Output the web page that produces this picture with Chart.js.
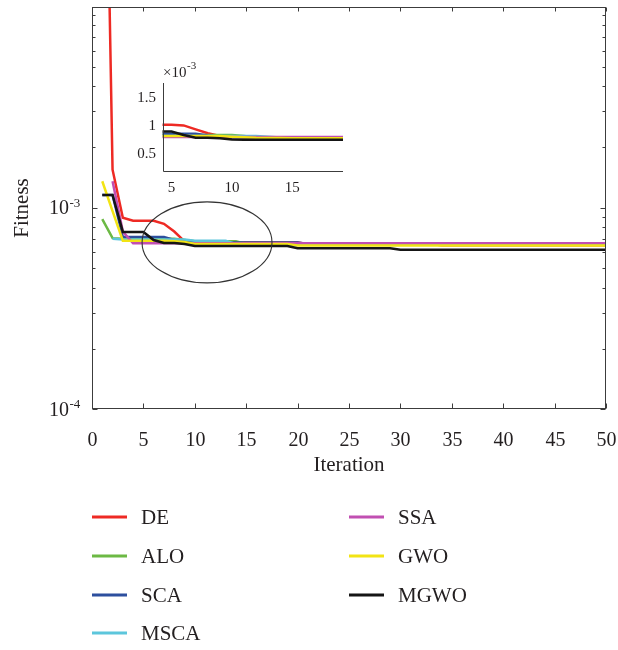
<!DOCTYPE html>
<html>
<head>
<meta charset="utf-8">
<script src="https://cdn.jsdelivr.net/npm/chart.js@4.4.0/dist/chart.umd.min.js"></script>
<style>
    html, body { margin: 0; padding: 0; background: #fff; }
    #wrap { position: relative; width: 618px; height: 650px; }
    #wrap canvas { position: absolute; left: 0; top: 0; }
</style>
</head>
<body>
<div id="wrap">
    <canvas id="mainChart" width="618" height="650"></canvas>
    <canvas id="insetChart" width="618" height="650"></canvas>
</div>
<script>
// ── Data ─────────────────────────────────────────────────────
const iterations = [1, 2, 3, 4, 5, 6, 7, 8, 9, 10, 11, 12, 13, 14, 15, 16, 17, 18, 19, 20,
    21, 22, 23, 24, 25, 26, 27, 28, 29, 30, 31, 32, 33, 34, 35, 36, 37, 38, 39, 40,
    41, 42, 43, 44, 45, 46, 47, 48, 49, 50];

const seriesNames = ['DE', 'ALO', 'SCA', 'MSCA', 'SSA', 'GWO', 'MGWO'];
const seriesColors = ['#ee2a24', '#6cb944', '#2d4f9e', '#5cc6dc', '#c14fb2', '#f2e414', '#151515'];

const deFit = [1.0, 1.54e-3, 8.9e-4, 8.6e-4, 8.6e-4, 8.6e-4, 8.3e-4, 7.6e-4, 6.8e-4, 6.75e-4,
    6.7e-4, 6.7e-4, 6.7e-4, 6.7e-4, 6.7e-4, 6.7e-4, 6.7e-4, 6.7e-4, 6.7e-4, 6.7e-4,
    6.6e-4, 6.6e-4, 6.6e-4, 6.6e-4, 6.6e-4, 6.6e-4, 6.6e-4, 6.6e-4, 6.6e-4, 6.6e-4,
    6.6e-4, 6.6e-4, 6.6e-4, 6.5e-4, 6.5e-4, 6.5e-4, 6.5e-4, 6.5e-4, 6.5e-4, 6.5e-4,
    6.5e-4, 6.5e-4, 6.5e-4, 6.5e-4, 6.5e-4, 6.5e-4, 6.5e-4, 6.5e-4, 6.5e-4, 6.5e-4];
const aloFit = [8.76e-4, 7.05e-4, 7.0e-4, 7.0e-4, 7.0e-4, 7.0e-4, 7.0e-4, 7.0e-4, 6.9e-4, 6.8e-4,
    6.8e-4, 6.8e-4, 6.8e-4, 6.8e-4, 6.6e-4, 6.55e-4, 6.55e-4, 6.55e-4, 6.55e-4, 6.55e-4,
    6.55e-4, 6.55e-4, 6.55e-4, 6.55e-4, 6.55e-4, 6.55e-4, 6.55e-4, 6.55e-4, 6.55e-4, 6.55e-4,
    6.55e-4, 6.55e-4, 6.55e-4, 6.55e-4, 6.55e-4, 6.55e-4, 6.55e-4, 6.55e-4, 6.55e-4, 6.55e-4,
    6.55e-4, 6.55e-4, 6.55e-4, 6.55e-4, 6.55e-4, 6.55e-4, 6.55e-4, 6.55e-4, 6.55e-4, 6.55e-4];
const scaFit = [1.155e-3, 1.155e-3, 7.15e-4, 7.15e-4, 7.15e-4, 7.15e-4, 7.15e-4, 6.9e-4, 6.8e-4, 6.75e-4,
    6.7e-4, 6.7e-4, 6.7e-4, 6.7e-4, 6.7e-4, 6.7e-4, 6.7e-4, 6.7e-4, 6.7e-4, 6.7e-4,
    6.6e-4, 6.6e-4, 6.6e-4, 6.6e-4, 6.6e-4, 6.6e-4, 6.6e-4, 6.6e-4, 6.6e-4, 6.6e-4,
    6.55e-4, 6.55e-4, 6.55e-4, 6.55e-4, 6.55e-4, 6.55e-4, 6.55e-4, 6.55e-4, 6.55e-4, 6.55e-4,
    6.55e-4, 6.55e-4, 6.55e-4, 6.55e-4, 6.55e-4, 6.55e-4, 6.55e-4, 6.55e-4, 6.55e-4, 6.55e-4];
const mscaFit = [null, 7.0e-4, 6.95e-4, 6.95e-4, 6.95e-4, 6.95e-4, 6.95e-4, 6.95e-4, 6.95e-4, 6.85e-4,
    6.85e-4, 6.85e-4, 6.85e-4, 6.6e-4, 6.6e-4, 6.6e-4, 6.6e-4, 6.6e-4, 6.6e-4, 6.6e-4,
    6.6e-4, 6.6e-4, 6.6e-4, 6.6e-4, 6.6e-4, 6.6e-4, 6.6e-4, 6.6e-4, 6.6e-4, 6.6e-4,
    6.6e-4, 6.6e-4, 6.6e-4, 6.6e-4, 6.6e-4, 6.6e-4, 6.6e-4, 6.6e-4, 6.6e-4, 6.6e-4,
    6.6e-4, 6.6e-4, 6.6e-4, 6.6e-4, 6.6e-4, 6.6e-4, 6.6e-4, 6.6e-4, 6.6e-4, 6.6e-4];
const ssaFit = [null, 1.35e-3, 7.6e-4, 6.65e-4, 6.65e-4, 6.65e-4, 6.65e-4, 6.65e-4, 6.65e-4, 6.65e-4,
    6.65e-4, 6.65e-4, 6.65e-4, 6.65e-4, 6.65e-4, 6.65e-4, 6.65e-4, 6.65e-4, 6.65e-4, 6.65e-4,
    6.65e-4, 6.65e-4, 6.65e-4, 6.65e-4, 6.65e-4, 6.65e-4, 6.65e-4, 6.65e-4, 6.65e-4, 6.65e-4,
    6.65e-4, 6.65e-4, 6.65e-4, 6.65e-4, 6.65e-4, 6.65e-4, 6.65e-4, 6.65e-4, 6.65e-4, 6.65e-4,
    6.65e-4, 6.65e-4, 6.65e-4, 6.65e-4, 6.65e-4, 6.65e-4, 6.65e-4, 6.65e-4, 6.65e-4, 6.65e-4];
const gwoFit = [1.35e-3, 9.6e-4, 6.85e-4, 6.85e-4, 6.85e-4, 6.85e-4, 6.85e-4, 6.8e-4, 6.75e-4, 6.6e-4,
    6.6e-4, 6.6e-4, 6.6e-4, 6.6e-4, 6.6e-4, 6.6e-4, 6.6e-4, 6.6e-4, 6.6e-4, 6.48e-4,
    6.48e-4, 6.48e-4, 6.48e-4, 6.48e-4, 6.48e-4, 6.48e-4, 6.48e-4, 6.48e-4, 6.48e-4, 6.48e-4,
    6.48e-4, 6.48e-4, 6.48e-4, 6.48e-4, 6.48e-4, 6.48e-4, 6.48e-4, 6.48e-4, 6.48e-4, 6.48e-4,
    6.48e-4, 6.48e-4, 6.48e-4, 6.48e-4, 6.48e-4, 6.48e-4, 6.48e-4, 6.48e-4, 6.48e-4, 6.48e-4];
const mgwoFit = [1.155e-3, 1.155e-3, 7.57e-4, 7.57e-4, 7.57e-4, 6.9e-4, 6.68e-4, 6.68e-4, 6.6e-4, 6.45e-4,
    6.45e-4, 6.45e-4, 6.45e-4, 6.45e-4, 6.45e-4, 6.45e-4, 6.45e-4, 6.45e-4, 6.45e-4, 6.28e-4,
    6.28e-4, 6.28e-4, 6.28e-4, 6.28e-4, 6.28e-4, 6.28e-4, 6.28e-4, 6.28e-4, 6.28e-4, 6.17e-4,
    6.17e-4, 6.17e-4, 6.17e-4, 6.17e-4, 6.17e-4, 6.17e-4, 6.17e-4, 6.17e-4, 6.17e-4, 6.17e-4,
    6.17e-4, 6.17e-4, 6.17e-4, 6.17e-4, 6.17e-4, 6.17e-4, 6.17e-4, 6.17e-4, 6.17e-4, 6.17e-4];
const mainSeries = [deFit, aloFit, scaFit, mscaFit, ssaFit, gwoFit, mgwoFit];

// inset (zoomed view, values in units of 10^-3)
const insetIters = [4, 5, 6, 7, 8, 9, 10, 11, 12, 13, 14, 15, 16, 17, 18, 19, 20];
const insetDe   = [1.0, 1.0, 0.99, 0.92, 0.85, 0.80, 0.79, 0.78, 0.78, 0.78, 0.78, 0.78, 0.78, 0.78, 0.78, 0.78, 0.78];
const insetAlo  = [0.82, 0.82, 0.82, 0.82, 0.82, 0.82, 0.82, 0.80, 0.775, 0.775, 0.775, 0.775, 0.775, 0.775, 0.775, 0.775, 0.775];
const insetSca  = [0.84, 0.84, 0.84, 0.84, 0.81, 0.79, 0.775, 0.775, 0.775, 0.775, 0.775, 0.775, 0.775, 0.775, 0.775, 0.775, 0.775];
const insetMsca = [0.80, 0.80, 0.80, 0.80, 0.80, 0.80, 0.80, 0.80, 0.80, 0.79, 0.775, 0.775, 0.775, 0.775, 0.775, 0.775, 0.775];
const insetSsa  = [0.785, 0.785, 0.785, 0.785, 0.785, 0.785, 0.785, 0.785, 0.785, 0.785, 0.785, 0.785, 0.785, 0.785, 0.785, 0.785, 0.785];
const insetGwo  = [0.80, 0.80, 0.80, 0.80, 0.80, 0.80, 0.79, 0.78, 0.77, 0.765, 0.765, 0.76, 0.76, 0.76, 0.76, 0.76, 0.76];
const insetMgwo = [0.88, 0.88, 0.82, 0.77, 0.77, 0.76, 0.74, 0.735, 0.735, 0.735, 0.735, 0.735, 0.735, 0.735, 0.735, 0.735, 0.73];
const insetSeries = [insetDe, insetAlo, insetSca, insetMsca, insetSsa, insetGwo, insetMgwo];

// tick labels
const xTicks = [0, 5, 10, 15, 20, 25, 30, 35, 40, 45, 50];
const yMajor = [1e-4, 1e-3];
const yMajorExp = ['-4', '-3'];
const yMinor = [2e-4, 3e-4, 4e-4, 5e-4, 6e-4, 7e-4, 8e-4, 9e-4, 2e-3, 3e-3, 4e-3, 5e-3, 6e-3, 7e-3, 8e-3, 9e-3];
const insetXTicks = [5, 10, 15];
const insetYTicks = [0.5, 1, 1.5];
const insetYLabels = ['0.5', '1', '1.5'];

// ellipse around the zoomed region (data coordinates)
const ellipseX = [4.87, 17.51];
const ellipseY = [1.067e-3, 4.23e-4];

// ── Helpers ──────────────────────────────────────────────────
const serif = '"Liberation Serif", "Times New Roman", serif';
const ink = '#231f20';
const axisColor = '#3c3c3c';

function makeDatasets(series) {
    return seriesNames.map((name, i) => ({
        label: name,
        data: series[i],
        borderColor: seriesColors[i],
        backgroundColor: seriesColors[i],
        borderWidth: 2.5,
        pointRadius: 0,
        tension: 0,
        fill: false,
        order: seriesNames.length - i
    }));
}

// ── Main chart decorations: frame, ticks, labels, ellipse, legend ──
const mainDecor = {
    id: 'mainDecor',
    afterDatasetsDraw(chart) {
        const { ctx, chartArea: a, scales: { x, y } } = chart;
        ctx.save();

        // ellipse
        const ex0 = x.getPixelForValue(ellipseX[0]), ex1 = x.getPixelForValue(ellipseX[1]);
        const ey0 = y.getPixelForValue(ellipseY[0]), ey1 = y.getPixelForValue(ellipseY[1]);
        ctx.strokeStyle = '#333';
        ctx.lineWidth = 1.1;
        ctx.beginPath();
        ctx.ellipse((ex0 + ex1) / 2, (ey0 + ey1) / 2, (ex1 - ex0) / 2, (ey1 - ey0) / 2, 0, 0, Math.PI * 2);
        ctx.stroke();

        // frame
        const L = Math.round(a.left) + 0.5, R = Math.round(a.right) - 0.5;
        const T = Math.round(a.top) + 0.5, B = Math.round(a.bottom) - 0.5;
        ctx.strokeStyle = axisColor;
        ctx.lineWidth = 1;
        ctx.strokeRect(L, T, R - L, B - T);

        // x ticks + labels
        ctx.fillStyle = ink;
        ctx.font = '20px ' + serif;
        ctx.textAlign = 'center';
        ctx.textBaseline = 'alphabetic';
        ctx.beginPath();
        xTicks.forEach(v => {
            const px = Math.round(x.getPixelForValue(v)) + 0.5;
            ctx.moveTo(px, B); ctx.lineTo(px, B - 5);
            ctx.moveTo(px, T); ctx.lineTo(px, T + 4);
            ctx.fillText(String(v), px, 446);
        });
        // y ticks
        yMajor.forEach(v => {
            const py = Math.round(y.getPixelForValue(v)) + 0.5;
            ctx.moveTo(L, py); ctx.lineTo(L + 5, py);
            ctx.moveTo(R, py); ctx.lineTo(R - 5, py);
        });
        yMinor.forEach(v => {
            const py = Math.round(y.getPixelForValue(v)) + 0.5;
            ctx.moveTo(L, py); ctx.lineTo(L + 3, py);
            ctx.moveTo(R, py); ctx.lineTo(R - 3, py);
        });
        ctx.stroke();

        // y labels 10^n
        yMajor.forEach((v, i) => {
            const py = y.getPixelForValue(v);
            ctx.font = '20px ' + serif;
            ctx.textAlign = 'right';
            ctx.fillText('10', 69, py + 6.5);
            ctx.font = '13px ' + serif;
            ctx.textAlign = 'left';
            ctx.fillText(yMajorExp[i], 69.5, py - 1);
        });

        // axis titles
        ctx.font = '21px ' + serif;
        ctx.textAlign = 'center';
        ctx.fillText('Iteration', (a.left + a.right) / 2, 471);
        ctx.save();
        ctx.translate(28, 208);
        ctx.rotate(-Math.PI / 2);
        ctx.fillText('Fitness', 0, 0);
        ctx.restore();

        // legend (two columns)
        const cols = [92, 349];
        const rows = [517, 556, 595, 633];
        chart.data.datasets.forEach((ds, i) => {
            const col = i < 4 ? 0 : 1;
            const row = i < 4 ? i : i - 4;
            const lx = cols[col], ly = rows[row];
            ctx.strokeStyle = ds.borderColor;
            ctx.lineWidth = 3;
            ctx.beginPath();
            ctx.moveTo(lx, ly); ctx.lineTo(lx + 35, ly);
            ctx.stroke();
            ctx.fillStyle = ink;
            ctx.font = '21px ' + serif;
            ctx.textAlign = 'left';
            ctx.fillText(ds.label, lx + 49, ly + 6.5);
        });

        ctx.restore();
    }
};

new Chart(document.getElementById('mainChart'), {
    type: 'line',
    data: {
        labels: iterations,
        datasets: makeDatasets(mainSeries)
    },
    options: {
        responsive: false,
        animation: false,
        devicePixelRatio: 1,
        events: [],
        layout: { padding: { left: 92, right: 12, top: 7, bottom: 240.7 } },
        scales: {
            x: { type: 'linear', min: 0, max: 50, display: false },
            y: { type: 'logarithmic', min: 1e-4, max: 0.00986, display: false }
        },
        plugins: {
            legend: { display: false },
            tooltip: { enabled: false }
        }
    },
    plugins: [mainDecor]
});

// ── Inset chart ──────────────────────────────────────────────
const insetDecor = {
    id: 'insetDecor',
    afterDatasetsDraw(chart) {
        const { ctx, chartArea: a, scales: { x, y } } = chart;
        ctx.save();
        const L = Math.round(a.left) + 0.5, B = Math.round(a.bottom) - 0.5;
        ctx.strokeStyle = axisColor;
        ctx.lineWidth = 1;
        ctx.beginPath();
        ctx.moveTo(L, Math.round(a.top)); ctx.lineTo(L, B); ctx.lineTo(Math.round(a.right), B);
        ctx.stroke();

        ctx.fillStyle = ink;
        ctx.font = '15px ' + serif;
        ctx.textAlign = 'right';
        insetYTicks.forEach((v, i) => {
            ctx.fillText(insetYLabels[i], 156, y.getPixelForValue(v) + 5);
        });
        ctx.textAlign = 'center';
        insetXTicks.forEach(v => {
            ctx.fillText(String(v), x.getPixelForValue(v), 192);
        });
        // ×10^-3 multiplier
        ctx.textAlign = 'left';
        ctx.fillText('\u00d710', 163, 77);
        ctx.font = '11px ' + serif;
        ctx.fillText('-3', 187, 69);
        ctx.restore();
    }
};

new Chart(document.getElementById('insetChart'), {
    type: 'line',
    data: {
        labels: insetIters,
        datasets: makeDatasets(insetSeries)
    },
    options: {
        responsive: false,
        animation: false,
        devicePixelRatio: 1,
        events: [],
        layout: { padding: { left: 162.5, right: 275, top: 83, bottom: 477.7 } },
        scales: {
            x: { type: 'linear', min: 4.25, max: 19.2, display: false },
            y: { type: 'linear', min: 0.155, max: 1.745, display: false }
        },
        plugins: {
            legend: { display: false },
            tooltip: { enabled: false }
        }
    },
    plugins: [insetDecor]
});
</script>
</body>
</html>
